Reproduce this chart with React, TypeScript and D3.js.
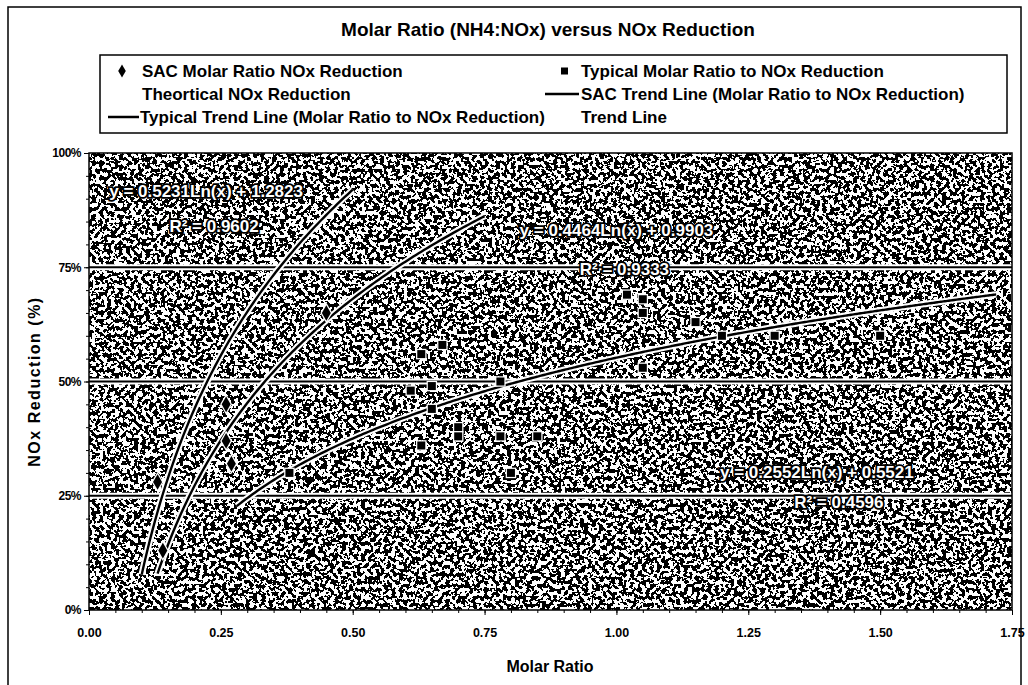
import { useEffect, useRef } from "react";
import * as d3 from "d3";

// SAC measurements (molar ratio, NOx reduction %)
const sacRatio = [0.13, 0.14, 0.26, 0.26, 0.27, 0.45];
const sacReduction = [28, 13, 45, 37, 32, 65];

// typical installations
const typRatio = [0.38, 0.61, 0.63, 0.63, 0.65, 0.65, 0.67, 0.70, 0.70, 0.78, 0.78, 0.80, 0.85, 1.02, 1.05, 1.05, 1.05, 1.15, 1.20, 1.30, 1.50];
const typReduction = [30, 48, 56, 36, 44, 49, 58, 40, 38, 50, 38, 30, 38, 69, 68, 65, 53, 63, 60, 60, 60];

// logarithmic trend lines y = a*ln(x) + b, as printed on the chart
const trendSlope = [0.5231, 0.4464, 0.2552];
const trendIntercept = [1.2823, 0.9903, 0.5521];
const trendR2 = ["0.9602", "0.9333", "0.4596"];
const trendFrom = [0.1, 0.13, 0.28];
const trendTo = [0.5, 0.75, 1.72];
// where the equation labels sit (data units: ratio, % for the equation line, % for R²)
const labelX = [0.222, 1.0, 1.38];
const labelEqY = [91.5, 83, 30];
const labelR2Y = [84, 74.5, 23.5];
const labelR2Shift = [8, 8, 22];

const xTicks = [0, 0.25, 0.5, 0.75, 1, 1.25, 1.5, 1.75];
const yTicks = [0, 0.25, 0.5, 0.75, 1];

const FONT = "'Liberation Sans', Arial, sans-serif";

export default function App() {
  const svgRef = useRef<SVGSVGElement>(null);

  useEffect(() => {
    if (!svgRef.current) return;
    const width = 1028;
    const height = 685;
    const plot = { left: 89, right: 1012, top: 153, bottom: 610 };

    const svg = d3.select(svgRef.current);
    svg.selectAll("*").remove();
    svg.attr("width", width).attr("height", height);

    const x = d3.scaleLinear().domain([0, 1.75]).range([plot.left, plot.right]);
    const y = d3.scaleLinear().domain([0, 1]).range([plot.bottom, plot.top]);

    // scanned-halftone look of the plot background
    const defs = svg.append("defs");
    const f = defs.append("filter").attr("id", "grain").attr("x", 0).attr("y", 0).attr("width", 1).attr("height", 1);
    f.append("feTurbulence").attr("type", "fractalNoise").attr("baseFrequency", 0.26).attr("numOctaves", 2).attr("seed", 7).attr("result", "n");
    f.append("feColorMatrix").attr("in", "n").attr("type", "matrix")
      .attr("values", "0 0 0 0 0  0 0 0 0 0  0 0 0 0 0  1 0 0 0 0").attr("result", "a");
    const ct = f.append("feComponentTransfer").attr("in", "a").attr("result", "t");
    ct.append("feFuncA").attr("type", "discrete").attr("tableValues", "0 1");
    f.append("feFlood").attr("flood-color", "#fff").attr("result", "w");
    const merge = f.append("feMerge");
    merge.append("feMergeNode").attr("in", "w");
    merge.append("feMergeNode").attr("in", "t");
    defs.append("clipPath").attr("id", "plotclip").append("rect")
      .attr("x", plot.left).attr("y", plot.top)
      .attr("width", plot.right - plot.left).attr("height", plot.bottom - plot.top);

    // outer chart frame
    svg.append("path")
      .attr("d", `M8,${height + 5}V7H1021V${height + 5}`)
      .attr("fill", "none").attr("stroke", "#000").attr("stroke-width", 1.5);

    svg.append("text")
      .attr("x", 548).attr("y", 36).attr("text-anchor", "middle")
      .attr("font-family", FONT).attr("font-size", 19).attr("font-weight", "bold")
      .text("Molar Ratio (NH4:NOx) versus NOx Reduction");

    // plot area
    svg.append("rect")
      .attr("x", plot.left).attr("y", plot.top)
      .attr("width", plot.right - plot.left).attr("height", plot.bottom - plot.top)
      .attr("fill", "#888").attr("filter", "url(#grain)");

    // gridlines
    const grid = svg.append("g");
    yTicks.slice(1, -1).forEach(t => {
      grid.append("line").attr("x1", plot.left).attr("x2", plot.right).attr("y1", y(t)).attr("y2", y(t))
        .attr("stroke", "#fff").attr("stroke-width", 6);
      grid.append("line").attr("x1", plot.left).attr("x2", plot.right).attr("y1", y(t)).attr("y2", y(t))
        .attr("stroke", "#000").attr("stroke-width", 1.8);
    });

    // trend lines
    const curves = svg.append("g").attr("clip-path", "url(#plotclip)");
    trendSlope.forEach((a, i) => {
      const xs = d3.range(trendFrom[i], trendTo[i], 0.005).concat([trendTo[i]]);
      const path = d3.line<number>().x(d => x(d)).y(d => y(a * Math.log(d) + trendIntercept[i])).curve(d3.curveMonotoneX)(xs);
      curves.append("path").attr("d", path).attr("fill", "none").attr("stroke", "#fff").attr("stroke-width", 6.5);
      curves.append("path").attr("d", path).attr("fill", "none").attr("stroke", "#000").attr("stroke-width", 2.4);
    });

    // markers
    const diamond = d3.symbol().type(d3.symbolDiamond).size(70);
    sacRatio.forEach((r, i) => {
      svg.append("path").attr("d", diamond()).attr("transform", `translate(${x(r)},${y(sacReduction[i] / 100)})`)
        .attr("fill", "#000").attr("stroke", "#fff").attr("stroke-width", 2.5).attr("paint-order", "stroke");
    });
    typRatio.forEach((r, i) => {
      svg.append("rect").attr("x", x(r) - 4).attr("y", y(typReduction[i] / 100) - 4)
        .attr("width", 8).attr("height", 8)
        .attr("fill", "#000").attr("stroke", "#fff").attr("stroke-width", 2.5).attr("paint-order", "stroke");
    });

    // equation labels
    trendSlope.forEach((a, i) => {
      const g = svg.append("g").attr("font-family", FONT).attr("font-size", 17).attr("font-weight", "bold")
        .attr("fill", "#fff").attr("stroke", "#000").attr("stroke-width", 3.5).attr("paint-order", "stroke")
        .attr("text-anchor", "middle").attr("dominant-baseline", "central");
      g.append("text").attr("x", x(labelX[i])).attr("y", y(labelEqY[i] / 100))
        .text(`y = ${a.toFixed(4)}Ln(x) + ${trendIntercept[i].toFixed(4)}`);
      g.append("text").attr("x", x(labelX[i]) + labelR2Shift[i]).attr("y", y(labelR2Y[i] / 100))
        .text(`R² = ${trendR2[i]}`);
    });

    // frame + axes
    svg.append("rect")
      .attr("x", plot.left).attr("y", plot.top)
      .attr("width", plot.right - plot.left).attr("height", plot.bottom - plot.top)
      .attr("fill", "none").attr("stroke", "#000").attr("stroke-width", 1.5);

    const xAxis = svg.append("g").attr("transform", `translate(0,${plot.bottom})`)
      .call(d3.axisBottom(x).tickValues(xTicks).tickSize(5).tickFormat(d3.format(".2f")));
    xAxis.call(g => g.select(".domain").remove());
    xAxis.selectAll("text").attr("font-family", FONT).attr("font-size", 12.5).attr("font-weight", "bold").attr("dy", "1.55em");
    svg.append("g").attr("transform", `translate(0,${plot.bottom})`)
      .call(d3.axisBottom(x).tickValues(d3.range(0.05, 1.75, 0.05)).tickSize(3).tickFormat(() => ""))
      .call(g => g.select(".domain").remove());

    const yAxis = svg.append("g").attr("transform", `translate(${plot.left},0)`)
      .call(d3.axisLeft(y).tickValues(yTicks).tickSize(5).tickFormat(d3.format(".0%")));
    yAxis.call(g => g.select(".domain").remove());
    yAxis.selectAll("text").attr("font-family", FONT).attr("font-size", 12).attr("font-weight", "bold").attr("letter-spacing", -0.5);
    svg.append("g").attr("transform", `translate(${plot.left},0)`)
      .call(d3.axisLeft(y).tickValues(d3.range(0.05, 1, 0.05)).tickSize(3).tickFormat(() => ""))
      .call(g => g.select(".domain").remove());

    svg.append("text").attr("x", 550).attr("y", 672).attr("text-anchor", "middle")
      .attr("font-family", FONT).attr("font-size", 16).attr("font-weight", "bold").text("Molar Ratio");
    svg.append("text").attr("transform", `translate(40,${(plot.top + plot.bottom) / 2}) rotate(-90)`)
      .attr("text-anchor", "middle").attr("font-family", FONT).attr("font-size", 16).attr("font-weight", "bold")
      .attr("letter-spacing", 1.5).text("NOx Reduction (%)");

    // legend
    const lg = svg.append("g").attr("font-family", FONT).attr("font-size", 17).attr("font-weight", "bold");
    lg.append("rect").attr("x", 100).attr("y", 55).attr("width", 907).attr("height", 78)
      .attr("fill", "#fff").attr("stroke", "#000").attr("stroke-width", 1.5);
    const rows = [71, 94, 117];
    lg.append("path").attr("d", d3.symbol().type(d3.symbolDiamond).size(50)()).attr("transform", `translate(122,${rows[0]})`);
    lg.append("text").attr("x", 142).attr("y", rows[0]).attr("dy", "0.35em").text("SAC Molar Ratio NOx Reduction");
    lg.append("text").attr("x", 142).attr("y", rows[1]).attr("dy", "0.35em").text("Theortical NOx Reduction");
    lg.append("line").attr("x1", 108).attr("x2", 139).attr("y1", rows[2]).attr("y2", rows[2]).attr("stroke", "#000").attr("stroke-width", 2.5);
    lg.append("text").attr("x", 140).attr("y", rows[2]).attr("dy", "0.35em").text("Typical Trend Line (Molar Ratio to NOx Reduction)");
    lg.append("rect").attr("x", 561).attr("y", rows[0] - 3.5).attr("width", 7).attr("height", 7);
    lg.append("text").attr("x", 581).attr("y", rows[0]).attr("dy", "0.35em").text("Typical Molar Ratio to NOx Reduction");
    lg.append("line").attr("x1", 545).attr("x2", 579).attr("y1", rows[1]).attr("y2", rows[1]).attr("stroke", "#000").attr("stroke-width", 2.5);
    lg.append("text").attr("x", 581).attr("y", rows[1]).attr("dy", "0.35em").text("SAC Trend Line (Molar Ratio to NOx Reduction)");
    lg.append("text").attr("x", 581).attr("y", rows[2]).attr("dy", "0.35em").text("Trend Line");
  }, []);

  return <svg ref={svgRef} style={{ position: "absolute", left: 0, top: 0, background: "#fff" }} />;
}
